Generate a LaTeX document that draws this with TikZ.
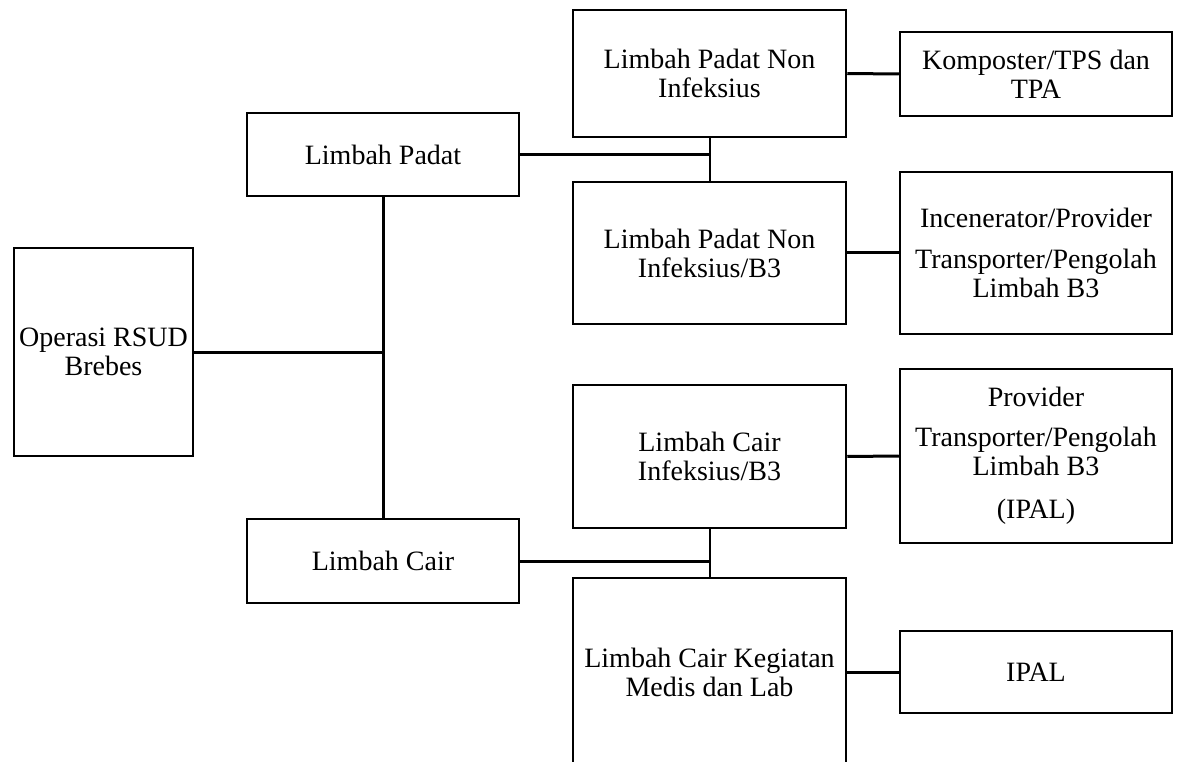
\documentclass[tikz,border=0pt]{standalone}
\usepackage{fontspec}
\setmainfont{Liberation Serif}
\begin{document}
\begin{tikzpicture}[x=1pt,y=-1pt,
  bx/.style={draw, line width=2.5pt, inner sep=0pt, align=center,
    font=\fontsize{28}{29}\selectfont},
  ln/.style={line width=3pt},
  jn/.style={line width=2pt}]
\useasboundingbox (0,0) rectangle (1181,762);
\clip (0,0) rectangle (1181,762);
\node[bx, minimum width=179pt, minimum height=208pt] (op) at (103.5,352) {Operasi RSUD\\Brebes};
\node[bx, minimum width=272pt, minimum height=83pt] (lp) at (383,154.5) {Limbah Padat};
\node[bx, minimum width=272pt, minimum height=84pt] (lc) at (383,561) {Limbah Cair};
\node[bx, minimum width=273pt, minimum height=127pt] (lpni) at (709.5,73.5) {Limbah Padat Non\\Infeksius};
\node[bx, minimum width=273pt, minimum height=142pt] (lpnib) at (709.5,253) {Limbah Padat Non\\Infeksius/B3};
\node[bx, minimum width=273pt, minimum height=143pt] (lci) at (709.5,456.5) {Limbah Cair\\Infeksius/B3};
\node[bx, minimum width=273pt, minimum height=188pt] (lck) at (709.5,672) {Limbah Cair Kegiatan\\Medis dan Lab};
\node[bx, minimum width=272pt, minimum height=84pt] (kom) at (1036,74) {Komposter/TPS dan\\TPA};
\node[bx, minimum width=272pt, minimum height=162pt] (inc) at (1036,253) {Incenerator/Provider\\[12pt]Transporter/Pengolah\\Limbah B3};
\node[bx, minimum width=272pt, minimum height=174pt] (prov) at (1036,456) {Provider\\[11pt]Transporter/Pengolah\\Limbah B3\\[14pt](IPAL)};
\node[bx, minimum width=272pt, minimum height=82pt] (ipal) at (1036,672) {IPAL};
\draw[ln] (op.east) -- (op.east -| lp.south);
\draw[ln] (lp.south) -- (lc.north);
\draw[ln] (lp.east) -- (lp.east -| lpni.south);
\draw[jn] (lpni.south) -- (lpnib.north);
\draw[ln] (lc.east) -- (lc.east -| lci.south);
\draw[jn] (lci.south) -- (lck.north);
\draw[ln] (lpni.east) -- (kom.west);
\draw[ln] (lpnib.east) -- (inc.west);
\draw[ln] (lci.east) -- (prov.west);
\draw[ln] (lck.east) -- (ipal.west);
\end{tikzpicture}
\end{document}
